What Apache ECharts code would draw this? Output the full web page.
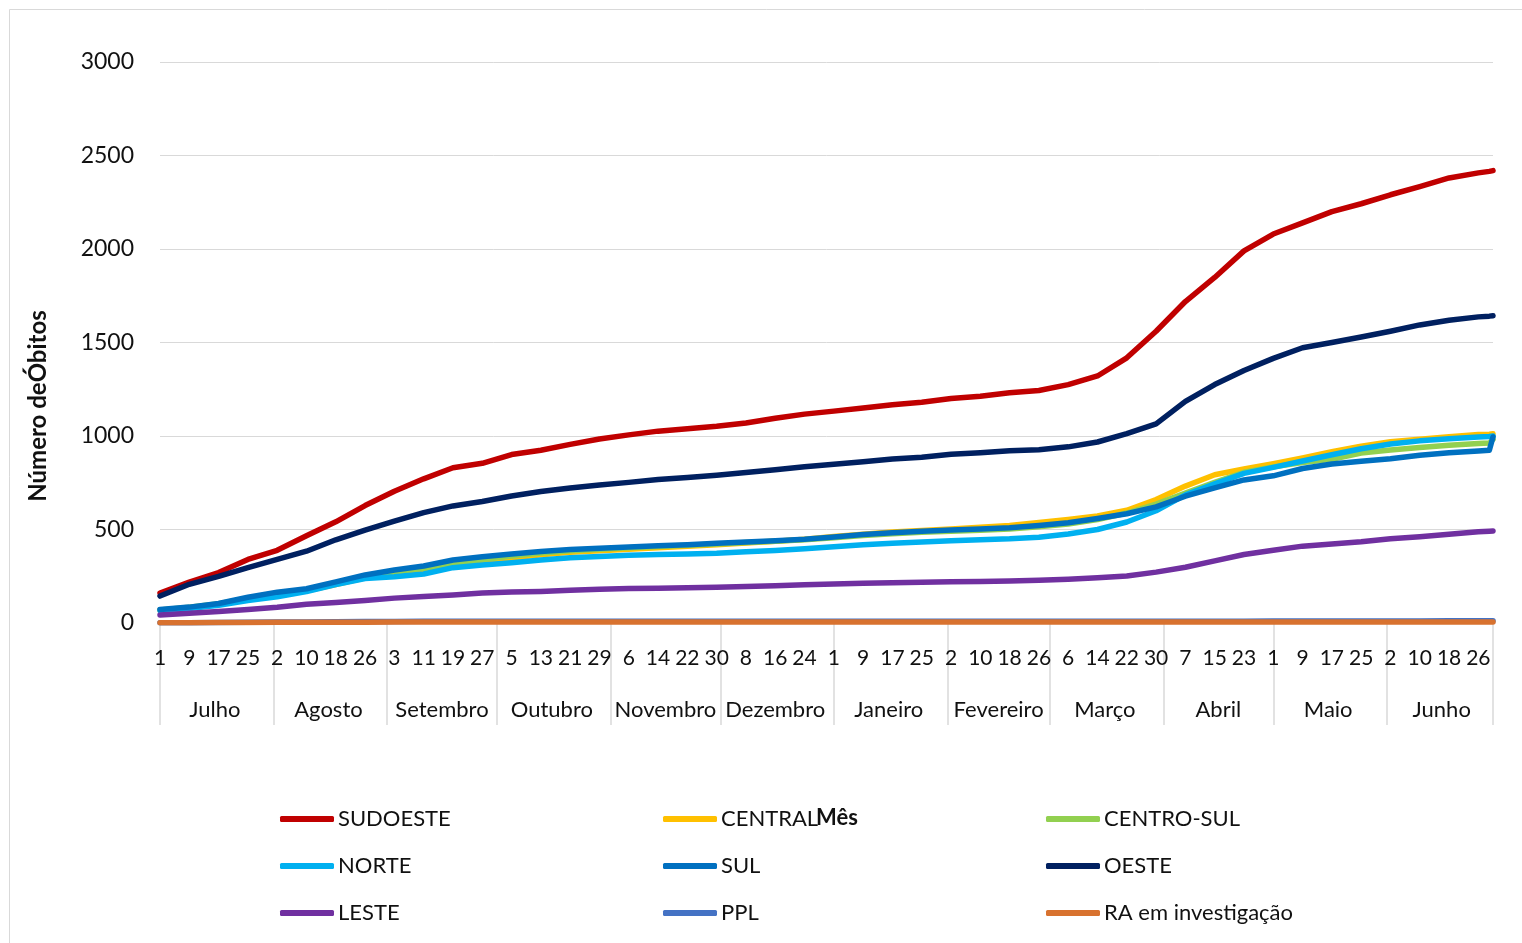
<!DOCTYPE html>
<html>
<head>
<meta charset="utf-8">
<script src="https://cdn.jsdelivr.net/npm/echarts@6.0.0/dist/echarts.min.js"></script>
<style>
  html, body { margin: 0; padding: 0; background: #fff; }
  #chart { width: 1522px; height: 943px; }
</style>
</head>
<body>
<div id="chart"></div>
<script>
// meses de julho a junho
var monthNames = ['Julho', 'Agosto', 'Setembro', 'Outubro', 'Novembro', 'Dezembro',
  'Janeiro', 'Fevereiro', 'Março', 'Abril', 'Maio', 'Junho'];
var monthDays = [31, 31, 30, 31, 30, 31, 31, 28, 31, 30, 31, 30];

// dias (índice a partir de 1 de julho) em que os valores foram lidos
var sampleDays = [0, 8, 16, 24, 32, 40, 48, 56, 64, 72, 80, 88, 96, 104, 112, 120, 128, 136, 144, 152,
  160, 168, 176, 184, 192, 200, 208, 216, 224, 232, 240, 248, 256, 264, 272, 280, 288, 296, 304, 312,
  320, 328, 336, 344, 352, 360, 363, 364];

var sudoeste = [160, 219, 270, 340, 389, 467, 541, 628, 705, 771, 830, 854, 901, 924, 955, 984, 1006, 1026, 1039, 1052,
  1070, 1095, 1117, 1133, 1150, 1167, 1181, 1200, 1213, 1231, 1243, 1275, 1321, 1418, 1560, 1719, 1848, 1990, 2080, 2140,
  2200, 2242, 2290, 2334, 2380, 2407, 2415, 2419];
var central = [68, 82, 100, 126, 152, 172, 206, 242, 268, 285, 310, 332, 348, 365, 378, 387, 395, 402, 410, 418,
  428, 437, 448, 462, 475, 486, 495, 503, 512, 522, 537, 554, 572, 603, 660, 732, 793, 824, 852, 883,
  916, 946, 969, 983, 996, 1008, 1010, 1012];
var centroSul = [70, 84, 103, 132, 160, 178, 212, 248, 275, 293, 318, 340, 358, 374, 386, 395, 402, 409, 416, 423,
  430, 437, 445, 456, 468, 477, 485, 491, 496, 502, 514, 529, 553, 588, 636, 695, 752, 806, 835, 858,
  876, 909, 925, 939, 950, 960, 962, 982];
var norte = [66, 78, 95, 120, 140, 168, 205, 238, 247, 262, 296, 310, 322, 337, 349, 356, 362, 366, 369, 373,
  381, 388, 397, 408, 418, 427, 433, 440, 445, 450, 459, 476, 500, 540, 600, 685, 744, 800, 832, 866,
  900, 932, 957, 974, 985, 995, 997, 1000];
var sul = [72, 85, 104, 138, 165, 183, 220, 257, 283, 305, 337, 354, 369, 382, 393, 400, 406, 413, 419, 426,
  433, 440, 448, 460, 473, 482, 490, 497, 503, 509, 521, 536, 559, 584, 621, 678, 723, 765, 787, 826,
  850, 865, 878, 897, 911, 920, 924, 995];
var oeste = [144, 207, 249, 296, 340, 384, 445, 497, 545, 590, 626, 650, 679, 703, 722, 738, 752, 767, 778, 790,
  805, 820, 835, 849, 862, 877, 886, 902, 911, 921, 927, 942, 968, 1013, 1065, 1185, 1275, 1350, 1415, 1472,
  1500, 1529, 1560, 1594, 1619, 1637, 1641, 1643];
var leste = [43, 52, 62, 72, 84, 100, 110, 120, 133, 142, 150, 160, 166, 169, 175, 180, 184, 186, 188, 191,
  195, 199, 204, 208, 212, 215, 218, 221, 222, 224, 228, 234, 242, 251, 272, 298, 332, 366, 389, 411,
  423, 434, 450, 461, 475, 488, 491, 492];
var ppl = [1, 2, 3, 4, 5, 6, 7, 8, 8, 9, 9, 9, 9, 9, 9, 9, 10, 10, 10, 10,
  10, 10, 10, 10, 10, 10, 10, 10, 10, 10, 10, 10, 10, 10, 10, 10, 10, 10, 11, 11,
  11, 11, 11, 11, 12, 12, 12, 12];
var raInvestigacao = [1, 2, 3, 3, 4, 4, 4, 4, 5, 5, 5, 5, 5, 5, 5, 5, 5, 5, 5, 5,
  5, 5, 5, 5, 5, 5, 5, 5, 5, 5, 5, 5, 5, 5, 5, 5, 5, 5, 5, 5,
  5, 5, 5, 5, 5, 5, 5, 5];

var FONT = 'Lato, "Noto Sans", sans-serif';

// categorias: um item por dia
var days = [];
var monthStart = {};
var monthMid = {};
var n = 0;
for (var m = 0; m < monthDays.length; m++) {
  monthStart[n] = true;
  monthMid[Math.floor(n + monthDays[m] / 2)] = monthNames[m];
  for (var d = 1; d <= monthDays[m]; d++) {
    days.push(m + '-' + d);
    n++;
  }
}
var lastIdx = days.length - 1;

function pairs(values) {
  return sampleDays.map(function(idx, i) { return [days[idx], values[i]]; });
}

var seriesDef = [
  ['SUDOESTE', sudoeste, '#C00000'],
  ['CENTRAL', central, '#FFC000'],
  ['CENTRO-SUL', centroSul, '#92D050'],
  ['NORTE', norte, '#00B0F0'],
  ['SUL', sul, '#0070C0'],
  ['OESTE', oeste, '#002060'],
  ['LESTE', leste, '#7030A0'],
  ['PPL', ppl, '#4472C4'],
  ['RA em investigação', raInvestigacao, '#D8722F']
];

var series = seriesDef.map(function(s) {
  return {
    name: s[0],
    type: 'line',
    data: pairs(s[1]),
    showSymbol: false,
    symbol: 'none',
    color: s[2],
    lineStyle: { width: 5.5, color: s[2], cap: 'round', join: 'round' },
    emphasis: { disabled: true },
    animation: false
  };
});

function legendCol(left, names) {
  return {
    orient: 'vertical',
    left: left,
    top: 808,
    itemWidth: 54,
    itemHeight: 6,
    itemGap: 25,
    icon: 'roundRect',
    selectedMode: false,
    padding: 0,
    textStyle: { fontFamily: FONT, fontSize: 22, color: '#111', padding: [0, 0, 0, -1] },
    data: names
  };
}

var myChart = echarts.init(document.getElementById('chart'));
var option = {
  backgroundColor: '#fff',
  animation: false,
  grid: { left: 160, right: 29, top: 62, bottom: 320 },
  legend: [
    legendCol(280, ['SUDOESTE', 'NORTE', 'LESTE']),
    legendCol(663, ['CENTRAL', 'SUL', 'PPL']),
    legendCol(1046, ['CENTRO-SUL', 'OESTE', 'RA em investigação'])
  ],
  xAxis: [{
    type: 'category',
    data: days,
    boundaryGap: false,
    axisLine: { lineStyle: { color: '#d9d9d9', width: 1 } },
    axisTick: {
      show: true,
      length: 102,
      interval: function(index) { return monthStart[index] || index === lastIdx; },
      lineStyle: { color: '#d9d9d9', width: 1.5 }
    },
    axisLabel: {
      interval: 7,
      margin: 25,
      fontFamily: FONT,
      fontSize: 21,
      color: '#111',
      formatter: function(value) { return value.split('-')[1]; }
    },
    splitLine: { show: false }
  }, {
    type: 'category',
    data: days,
    position: 'bottom',
    offset: 0,
    boundaryGap: false,
    axisLine: { show: false },
    axisTick: { show: false },
    axisLabel: {
      interval: function(index) { return monthMid[index] !== undefined; },
      margin: 76,
      fontFamily: FONT,
      fontSize: 22,
      color: '#111',
      formatter: function(value, index) { return monthMid[index] || ''; }
    },
    splitLine: { show: false }
  }],
  yAxis: {
    type: 'value',
    min: 0,
    max: 3000,
    interval: 500,
    axisLine: { show: false },
    axisTick: { show: false },
    axisLabel: {
      margin: 26, fontFamily: FONT, fontSize: 23, color: '#111',
      formatter: function(v) { return String(v); }
    },
    splitLine: { lineStyle: { color: '#d9d9d9', width: 1 } }
  },
  graphic: [
    {
      type: 'rect',
      z: -1,
      shape: { x: 9.5, y: 9.5, width: 1600, height: 1000 },
      style: { fill: 'none', stroke: '#d9d9d9', lineWidth: 1 }
    },
    {
      type: 'text',
      x: 38, y: 406,
      rotation: Math.PI / 2,
      style: {
        text: 'Número deÓbitos', fill: '#111', font: 'bold 24px ' + FONT,
        textAlign: 'center', textVerticalAlign: 'middle'
      }
    },
    {
      type: 'text',
      x: 837, y: 818,
      z: 100,
      style: {
        text: 'Mês', fill: '#111', font: 'bold 22px ' + FONT,
        textAlign: 'center', textVerticalAlign: 'middle'
      }
    }
  ],
  series: series
};
myChart.setOption(option);
</script>
</body>
</html>
